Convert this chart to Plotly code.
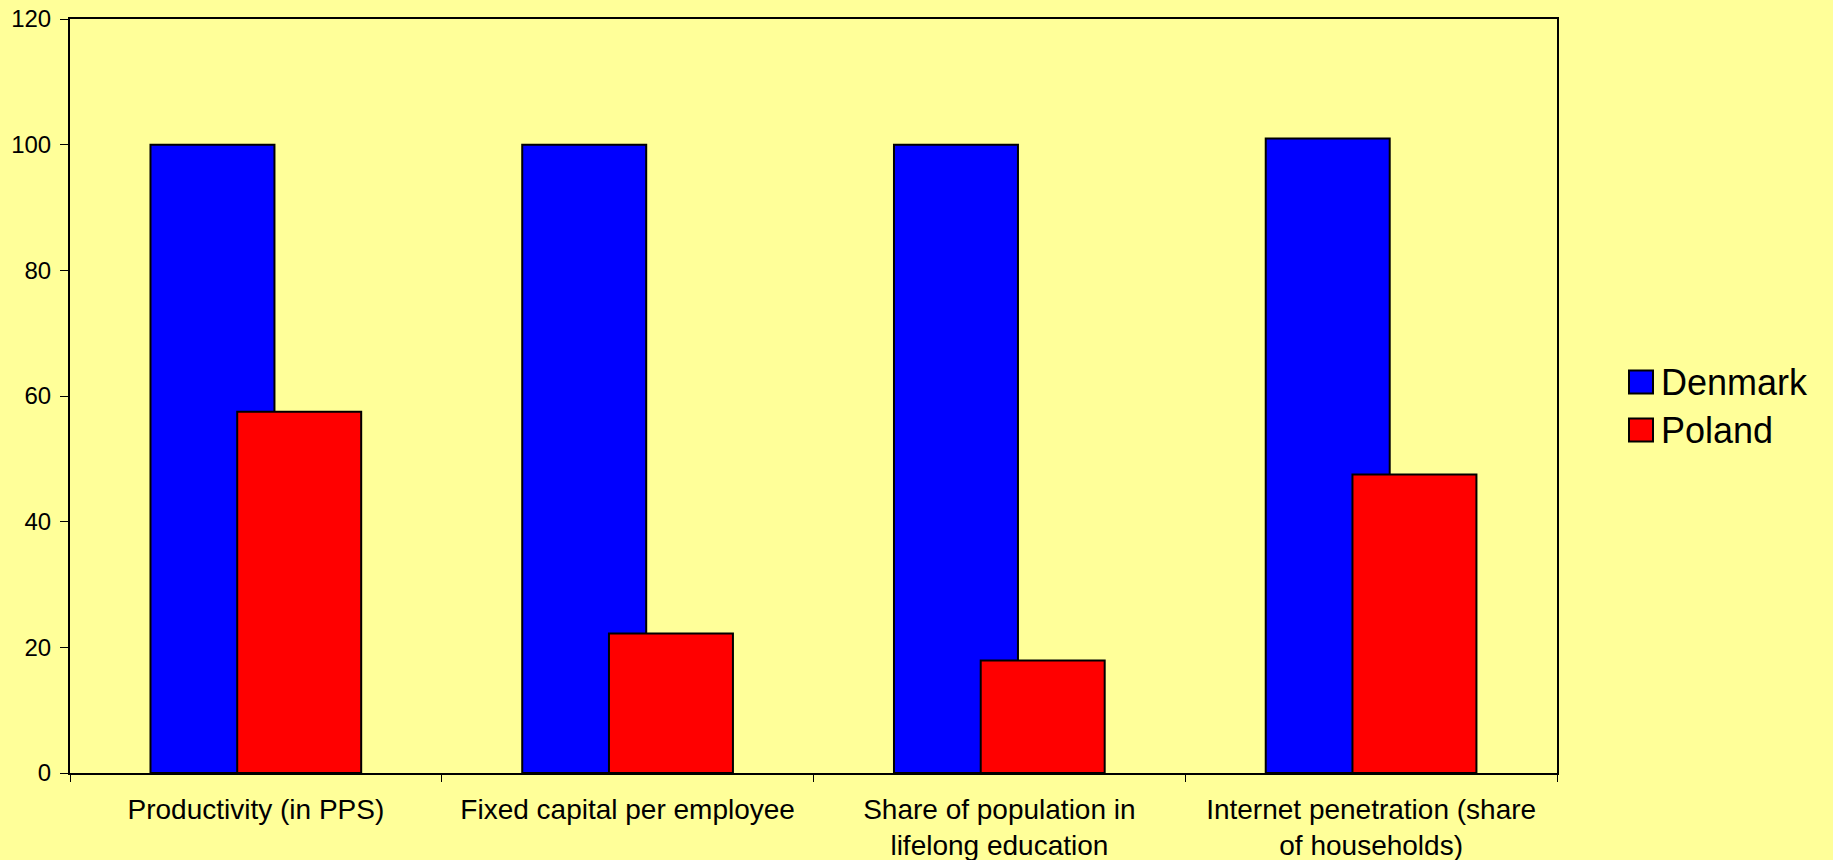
import plotly.graph_objects as go

categories = ["Productivity (in PPS)", "Fixed capital per employee",
              "Share of population in<br>lifelong education",
              "Internet penetration (share<br>of households)"]
series_names = ["Denmark", "Poland"]
denmark = [100, 100, 100, 101]
poland = [57.5, 22.2, 17.9, 47.5]
y_ticks = [0, 20, 40, 60, 80, 100, 120]

colors = ["#0000FF", "#FF0000"]
BG = "#FFFF99"
FONT = "Liberation Sans, Arial, sans-serif"

W, H = 1833, 860
ml, mr, mt, mb = 70, 276, 19, 87
pw, ph = W - ml - mr, H - mt - mb

bar_w = 0.3335
offsets = [-0.2835, -0.0502]

fig = go.Figure()
for name, vals, col, off in zip(series_names, [denmark, poland], colors, offsets):
    fig.add_trace(go.Bar(
        x=categories, y=vals, name=name, width=bar_w, offset=off,
        marker=dict(color=col, line=dict(color="black", width=2)),
        showlegend=False,
    ))

# manual legend (larger swatches)
legend_centers_px = [382, 430]
for name, col, cy in zip(series_names, colors, legend_centers_px):
    yc = (H - mb - cy) / ph
    half = 11.5 / ph
    fig.add_shape(type="rect", xref="paper", yref="paper",
                  x0=(1629 - ml) / pw, x1=(1653 - ml) / pw,
                  y0=yc - half, y1=yc + half,
                  fillcolor=col, line=dict(color="black", width=2))
    fig.add_annotation(xref="paper", yref="paper", x=(1659 - ml) / pw, y=yc,
                       text=name, showarrow=False, xanchor="left", yanchor="middle",
                       font=dict(family=FONT, size=36, color="black"))

fig.update_layout(
    width=W, height=H,
    margin=dict(l=ml, r=mr, t=mt, b=mb, autoexpand=False),
    paper_bgcolor=BG, plot_bgcolor=BG,
    barmode="overlay",
    font=dict(family=FONT, color="black"),
    xaxis=dict(
        type="category", tickson="boundaries", ticks="outside", ticklen=7,
        tickwidth=1, tickcolor="black",
        showline=True, linecolor="black", linewidth=2, mirror=True,
        showgrid=False, tickfont=dict(size=28, family=FONT, color="black"),
        ticklabelstandoff=10, automargin=False,
    ),
    yaxis=dict(
        range=[0, 120], tickvals=y_ticks, ticks="outside", ticklen=8,
        tickwidth=1, tickcolor="black",
        showline=True, linecolor="black", linewidth=2, mirror=True,
        showgrid=False, zeroline=False,
        tickfont=dict(size=24, family=FONT, color="black"),
        ticklabelstandoff=4, automargin=False,
    ),
)

fig.write_html("out.html")
